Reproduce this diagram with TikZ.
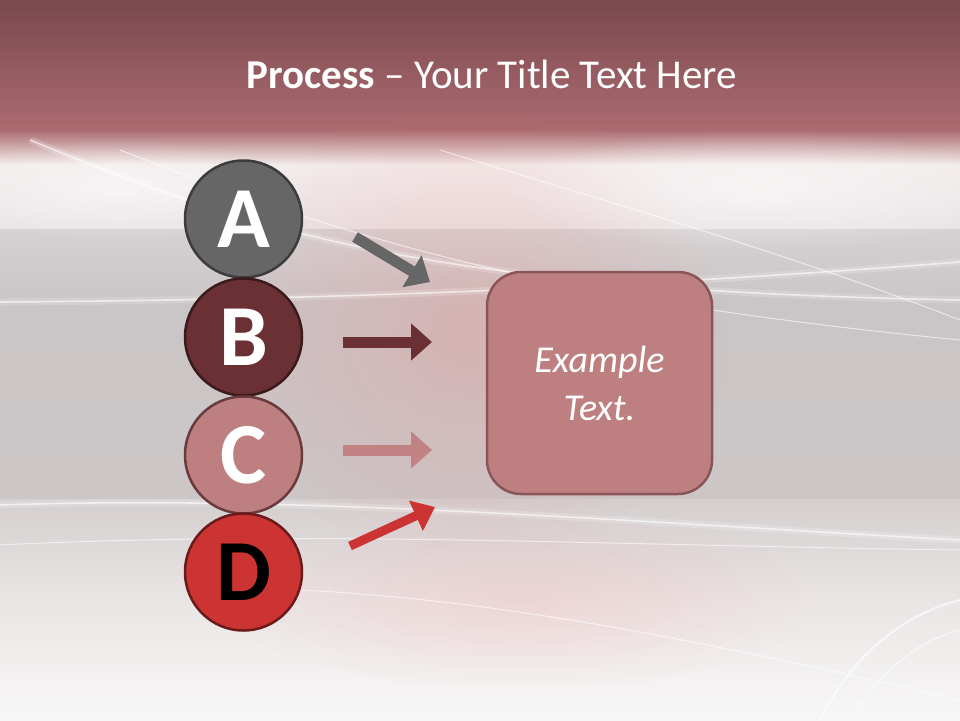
\documentclass[tikz,border=0pt]{standalone}
\usepackage{fontspec}
\setmainfont{Carlito}
\usetikzlibrary{arrows.meta,fadings}
\tikzfading[name=glowfade, inner color=transparent!0, outer color=transparent!100]
\definecolor{topA}{HTML}{7A484E}
\definecolor{topB}{HTML}{AB6B6F}
\definecolor{paleA}{HTML}{F3ECEC}
\definecolor{paleB}{HTML}{E9E4E5}
\definecolor{grayA}{HTML}{D6D2D3}
\definecolor{grayB}{HTML}{CAC5C6}
\definecolor{grayC}{HTML}{CCC6C7}
\definecolor{lowA}{HTML}{D4CECF}
\definecolor{lowB}{HTML}{EAE5E5}
\definecolor{lowC}{HTML}{F8F7F7}
\definecolor{cA}{HTML}{666666}
\definecolor{cAb}{HTML}{3C3C3C}
\definecolor{cB}{HTML}{6A3033}
\definecolor{cBb}{HTML}{3A1A1C}
\definecolor{cC}{HTML}{BD7F80}
\definecolor{cCb}{HTML}{6A3A3C}
\definecolor{cD}{HTML}{CC3333}
\definecolor{cDb}{HTML}{6A1A1A}
\definecolor{boxfill}{HTML}{BD7F80}
\definecolor{boxline}{HTML}{8A5558}
\definecolor{arrC}{HTML}{C08283}
\tikzset{
  letter/.style={circle, minimum size=117pt, inner sep=0pt, line width=2.5pt,
    font=\fontsize{87}{87}\selectfont\bfseries},
  bigarrow/.style={line width=11pt, -{Triangle[width=36pt,length=21pt]}},
  swoosh/.style={white, line width=1.6pt, opacity=0.6},
  haze/.style={white, line width=7pt, opacity=0.18},
}
\begin{document}
\begin{tikzpicture}[x=1pt,y=-1pt]
\useasboundingbox (0,0) rectangle (960,720);
% background
\shade[top color=topA, bottom color=topB] (0,0) rectangle (960,130);
\shade[top color=topB, bottom color=paleA] (0,129.5) rectangle (960,165);
\shade[top color=paleA, bottom color=paleB] (0,164.5) rectangle (960,230);
\shade[top color=grayA, bottom color=grayB] (0,229.5) rectangle (960,300);
\shade[top color=grayB, bottom color=grayC] (0,299.5) rectangle (960,500);
\shade[top color=lowA, bottom color=lowB] (0,499.5) rectangle (960,600);
\shade[top color=lowB, bottom color=lowC] (0,599.5) rectangle (960,720);
% pink glow
\fill[red!55, fill opacity=0.22, path fading=glowfade] (470,330) ellipse (260 and 230);
\fill[red!55, fill opacity=0.15, path fading=glowfade] (520,600) ellipse (300 and 90);
\fill[white, fill opacity=0.5, path fading=glowfade] (760,190) ellipse (260 and 60);
\fill[white, fill opacity=0.5, path fading=glowfade] (120,190) ellipse (200 and 50);
% swooshes
\draw[haze] (30,140) .. controls (250,230) and (420,290) .. (960,300);
\draw[haze] (0,505) .. controls (300,495) and (600,520) .. (960,540);
\draw[haze] (0,302) .. controls (300,300) and (600,290) .. (960,262);
\draw[swoosh] (30,140) .. controls (250,230) and (420,290) .. (960,300);
\draw[swoosh] (0,302) .. controls (300,300) and (600,290) .. (960,262);
\draw[swoosh, line width=1pt] (120,150) .. controls (350,240) and (550,300) .. (960,340);
\draw[swoosh, line width=1pt] (440,150) .. controls (600,200) and (780,250) .. (960,320);
\draw[swoosh] (0,505) .. controls (300,495) and (600,520) .. (960,540);
\draw[swoosh, line width=1pt] (0,545) .. controls (300,530) and (600,545) .. (960,550);
\draw[swoosh, line width=1pt] (300,590) .. controls (500,600) and (700,640) .. (960,700);
\draw[swoosh, line width=2pt] (820,720) .. controls (860,640) and (920,610) .. (960,600);
\draw[swoosh, line width=1pt] (850,720) .. controls (880,670) and (920,640) .. (960,630);
% title
\node[anchor=base, text=white, font=\fontsize{41}{41}\selectfont, inner sep=0pt] (title) at (492,88) {\textbf{Process} – Your Title Text Here};
% circles
\node[letter, fill=cA, draw=cAb, text=white] (A) at (243.5,219) {A};
\node[letter, fill=cB, draw=cBb, text=white] (B) at (243.5,337) {B};
\node[letter, fill=cC, draw=cCb, text=white] (C) at (243.5,455) {C};
\node[letter, fill=cD, draw=cDb, text=black] (D) at (243.5,572) {D};
% box
\node[draw=boxline, fill=boxfill, line width=2.5pt, rounded corners=34pt,
  minimum width=225pt, minimum height=222pt, inner sep=0pt, text=white,
  align=center, font=\fontsize{38}{48}\selectfont\itshape] (box) at (599.5,383) {Example\\Text.};
% arrow coordinates
\coordinate (a1) at (355,237);
\coordinate (a2) at (430,282);
\coordinate (b1) at (343,342);
\coordinate (b2) at (432,342);
\coordinate (c1) at (343,450);
\coordinate (c2) at (432,450);
\coordinate (d1) at (350,546);
\coordinate (d2) at (435,507);
\draw[bigarrow, cA] (a1) -- (a2);
\draw[bigarrow, cB] (b1) -- (b2);
\draw[bigarrow, arrC] (c1) -- (c2);
\draw[bigarrow, cD, line width=9pt, -{Triangle[width=32pt,length=21pt]}] (d1) -- (d2);
\end{tikzpicture}
\end{document}
